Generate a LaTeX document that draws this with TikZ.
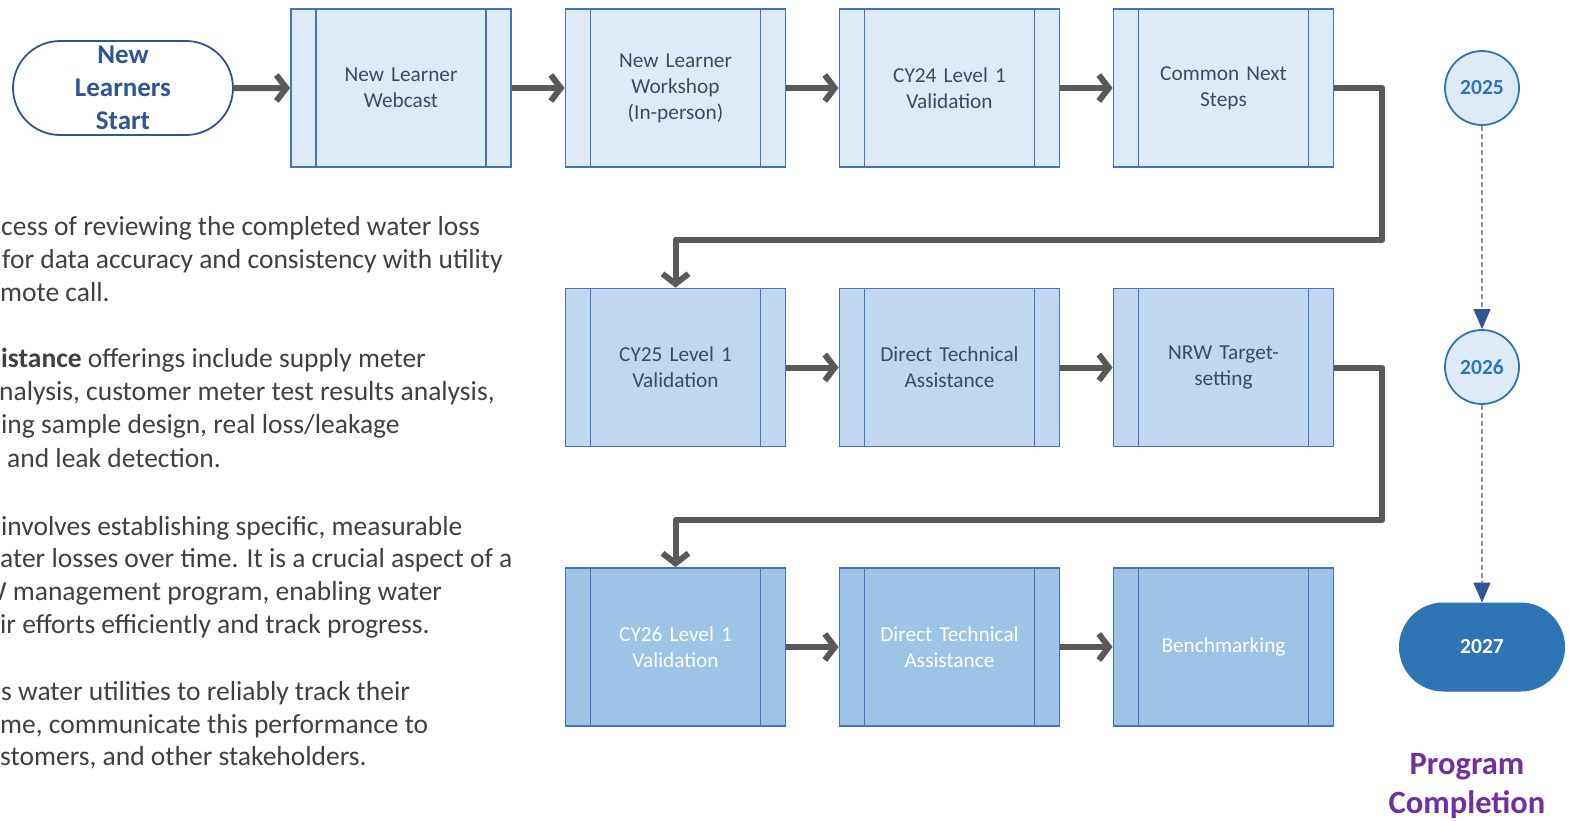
\documentclass[tikz,border=0pt]{standalone}
\usepackage{fontspec}
\setmainfont{Carlito}
\usetikzlibrary{arrows.meta,shapes.misc,calc}
\definecolor{boxedge}{HTML}{4472C4}
\definecolor{fillA}{HTML}{DEEBF7}
\definecolor{fillB}{HTML}{C0D7EF}
\definecolor{fillC}{HTML}{9DC3E6}
\definecolor{boxtext}{HTML}{3E4A5E}
\definecolor{conn}{HTML}{595959}
\definecolor{darkblue}{HTML}{2F5597}
\definecolor{midblue}{HTML}{2E75B6}
\definecolor{circfill}{HTML}{DEEBF7}
\definecolor{bodytext}{HTML}{404040}
\definecolor{purp}{HTML}{7030A0}
\definecolor{dashcol}{HTML}{8497B0}
\begin{document}
\begin{tikzpicture}[x=1pt,y=-1pt,
  procbox/.style={rectangle, draw=boxedge, line width=1.8pt, minimum width=220pt,
    minimum height=158pt, inner sep=0pt, align=center, text width=160pt,
    font=\fontsize{21.3}{26}\selectfont, text=boxtext,
    path picture={\draw[boxedge,line width=1.8pt]
      ([xshift=25pt]path picture bounding box.north west) -- ([xshift=25pt]path picture bounding box.south west)
      ([xshift=-25pt]path picture bounding box.north east) -- ([xshift=-25pt]path picture bounding box.south east);}},
  rowA/.style={procbox, fill=fillA},
  rowB/.style={procbox, fill=fillB},
  rowC/.style={procbox, fill=fillC, text=white},
  startnode/.style={rounded rectangle, draw=darkblue, line width=1.8pt, fill=white,
    minimum width=220pt, minimum height=94pt, inner sep=0pt, align=center,
    font=\bfseries\fontsize{27}{33}\selectfont, text=darkblue},
  yearcircle/.style={circle, draw=midblue, line width=1.8pt, fill=circfill, minimum size=74pt,
    inner sep=0pt, font=\bfseries\fontsize{21.5}{24}\selectfont, text=midblue},
  endnode/.style={rounded rectangle, draw=midblue, fill=midblue, line width=1pt,
    minimum width=165pt, minimum height=88pt, inner sep=0pt,
    font=\bfseries\fontsize{21.5}{24}\selectfont, text=white},
  flow/.style={draw=conn, line width=6pt, line join=round,
    -{Straight Barb[length=10pt,width=26pt]}},
  timeline/.style={draw=dashcol, line width=1.2pt, dash pattern=on 5pt off 3pt,
    -{Triangle[length=20pt,width=17pt,fill=darkblue,color=darkblue]}},
  para/.style={anchor=base west, inner sep=0pt, text=bodytext, font=\fontsize{27.5}{33}\selectfont}
]
\useasboundingbox (0,0) rectangle (1569,820);
\fill[white] (0,0) rectangle (1569,820);

% start
\node[startnode] (start) at (123,88) {New\\Learners\\Start};

% row 1
\node[rowA] (b1) at (401,88) {New Learner\\Webcast};
\node[rowA] (b2) at (675.5,88) {New Learner\\Workshop\\(In-person)};
\node[rowA] (b3) at (949.5,88) {CY24 Level 1\\Validation};
\node[rowA] (b4) at (1223.5,88) {Common Next\\Steps};
% row 2
\node[rowB] (b5) at (675.5,367.5) {CY25 Level 1\\Validation};
\node[rowB] (b6) at (949.5,367.5) {Direct Technical\\Assistance};
\node[rowB] (b7) at (1223.5,367.5) {NRW Target-\\setting};
% row 3
\node[rowC] (b8) at (675.5,647) {CY26 Level 1\\Validation};
\node[rowC] (b9) at (949.5,647) {Direct Technical\\Assistance};
\node[rowC] (b10) at (1223.5,647) {Benchmarking};

% connectors
\draw[flow] (start) -- (b1);
\draw[flow] (b1) -- (b2);
\draw[flow] (b2) -- (b3);
\draw[flow] (b3) -- (b4);
\draw[flow] (b4.east) -- ++(48,0) |- ($(b5.north)+(0,-48)$) -- (b5.north);
\draw[flow] (b5) -- (b6);
\draw[flow] (b6) -- (b7);
\draw[flow] (b7.east) -- ++(48,0) |- ($(b8.north)+(0,-47)$) -- (b8.north);
\draw[flow] (b8) -- (b9);
\draw[flow] (b9) -- (b10);

% timeline
\node[yearcircle] (y25) at (1482,88) {2025};
\node[yearcircle] (y26) at (1482,367) {2026};
\node[endnode] (y27) at (1482,647) {2027};
\draw[timeline] (y25) -- (y26);
\draw[timeline] (y26) -- (y27);
\node[align=center, text=purp, font=\bfseries\fontsize{32.5}{39}\selectfont] (pc) at (1467,786) {Program\\Completion};

% left text (cut at the picture edge)
\begin{scope}
\clip (0,0) rectangle (1569,820);
\node[para] (p1) at (1,235) {cess of reviewing the completed water loss};
\node[para] (p2) at (2,268) {for data accuracy and consistency with utility};
\node[para] (p3) at (0,301) {mote call.};
\node[para] (p4) at (1,367) {\textbf{istance} offerings include supply meter};
\node[para] (p5) at (-1,400) {nalysis, customer meter test results analysis,};
\node[para] (p6) at (1,433) {ing sample design, real loss/leakage};
\node[para] (p7) at (7,467) {and leak detection.};
\node[para] (p8) at (1,535) {involves establishing specific, measurable};
\node[para] (p9) at (0,567) {ater losses over time. It is a crucial aspect of a};
\node[para] (p10) at (-18,600) {W management program, enabling water};
\node[para] (p11) at (0,633) {ir efforts efficiently and track progress.};
\node[para] (p12) at (1,700) {s water utilities to reliably track their};
\node[para] (p13) at (0,733) {me, communicate this performance to};
\node[para] (p14) at (0,765) {stomers, and other stakeholders.};
\end{scope}
\end{tikzpicture}
\end{document}
